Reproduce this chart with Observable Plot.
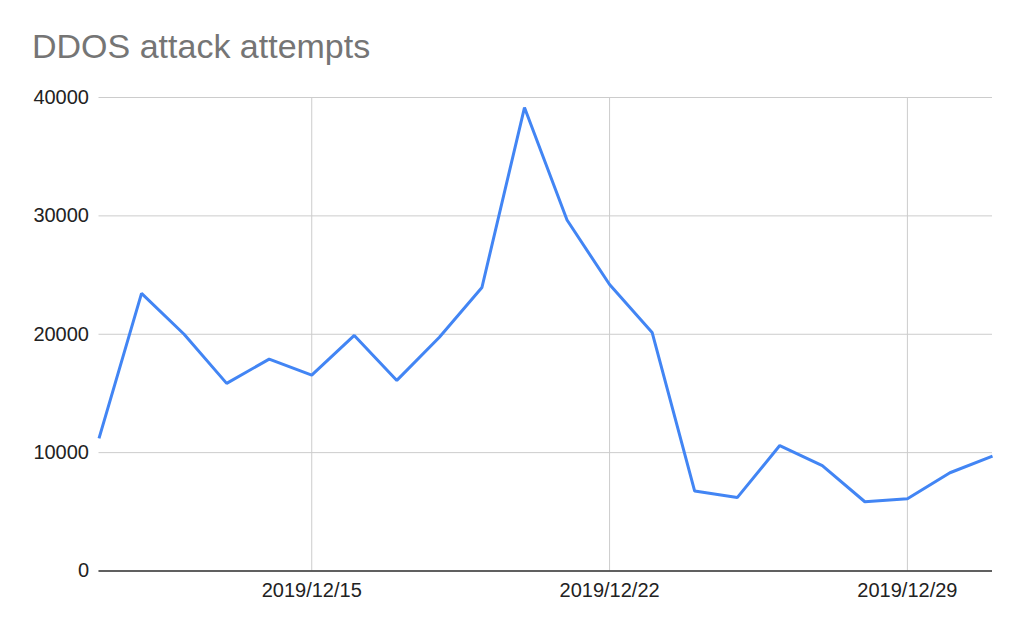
<!DOCTYPE html>
<html>
<head>
<meta charset="utf-8">
<script src="https://cdn.jsdelivr.net/npm/d3@7"></script>
<script src="https://cdn.jsdelivr.net/npm/@observablehq/plot@0.6"></script>
<style>
  html, body { margin: 0; padding: 0; background: #fff; }
  body { width: 1024px; height: 633px; overflow: hidden; font-family: "Liberation Sans", Arial, sans-serif; }
  #title { height: 80px; box-sizing: border-box; padding-left: 32px; padding-top: 26px; font-size: 34px; color: #757575; line-height: 40px; white-space: nowrap; }
</style>
</head>
<body>
<div id="title">DDOS attack attempts</div>
<div id="chart"></div>
<script>
const dates = ["2019-12-10","2019-12-11","2019-12-12","2019-12-13","2019-12-14","2019-12-15","2019-12-16","2019-12-17","2019-12-18","2019-12-19","2019-12-20","2019-12-21","2019-12-22","2019-12-23","2019-12-24","2019-12-25","2019-12-26","2019-12-27","2019-12-28","2019-12-29","2019-12-30","2019-12-31"];
const attempts = [11200, 23450, 20000, 15850, 17900, 16550, 19900, 16100, 19750, 23950, 39150, 29650, 24200, 20150, 6750, 6200, 10600, 8900, 5850, 6100, 8300, 9700];
const xTicks = ["2019-12-15", "2019-12-22", "2019-12-29"];
const yTicks = [0, 10000, 20000, 30000, 40000];

const data = dates.map((d, i) => ({date: new Date(d + "T00:00:00Z"), value: attempts[i]}));
const xTickDates = xTicks.map(d => new Date(d + "T00:00:00Z"));
const fmt = d3.utcFormat("%Y/%m/%d");

const chart = Plot.plot({
  width: 1024,
  height: 553,
  marginTop: 17,
  marginBottom: 62.5,
  marginLeft: 98.5,
  marginRight: 32,
  style: {fontFamily: "'Liberation Sans', Arial, sans-serif", fontSize: "20px", color: "#222", background: "#fff"},
  x: {type: "utc", domain: [data[0].date, data[data.length - 1].date], label: null},
  y: {domain: [0, 40000], label: null},
  marks: [
    Plot.gridY(yTicks, {stroke: "#cccccc", strokeOpacity: 1, strokeWidth: 1}),
    Plot.gridX(xTickDates, {stroke: "#cccccc", strokeOpacity: 1, strokeWidth: 1}),
    Plot.axisY({ticks: yTicks, tickFormat: d => String(d), tickSize: 0, tickPadding: 10, fontSize: 20, fill: "#222", label: null}),
    Plot.axisX({ticks: xTickDates, tickFormat: fmt, tickSize: 0, tickPadding: 12, fontSize: 20, fill: "#222", label: null}),
    Plot.ruleY([0], {stroke: "#333", strokeWidth: 1.5}),
    Plot.line(data, {x: "date", y: "value", stroke: "#4285f4", strokeWidth: 3, strokeLinejoin: "miter", strokeLinecap: "butt"})
  ]
});
document.getElementById("chart").appendChild(chart);
</script>
</body>
</html>
